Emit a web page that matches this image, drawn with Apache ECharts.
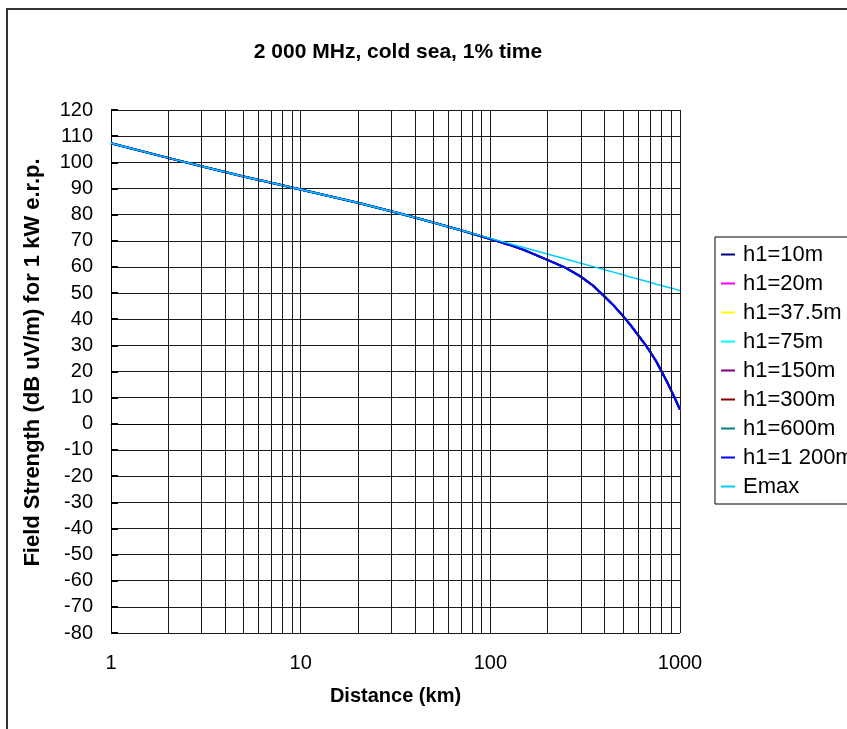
<!DOCTYPE html>
<html>
<head>
<meta charset="utf-8">
<script src="https://cdn.jsdelivr.net/npm/echarts@6/dist/echarts.min.js"></script>
<style>
html,body{margin:0;padding:0;background:#fff;}
#chart{width:847px;height:729px;}
</style>
</head>
<body>
<div id="chart"></div>
<script>
// Distances (km)
const distances = [1,2,3,5,7,10,15,20,30,40,50,70,100,125,150,200,250,300,350,400,450,500,550,600,650,700,750,800,850,900,950,1000];
// Emax curve (dB uV/m)
const emaxValues = [107.3,101.7,98.5,94.6,92.2,89.6,86.6,84.5,81.3,78.9,77.0,74.0,70.9,69.0,67.4,64.9,63.0,61.4,60.1,58.9,57.9,57.0,56.1,55.4,54.7,54.0,53.4,52.9,52.3,51.9,51.4,50.9];
// h1 curves (all eight overlap in the picture)
const h1Values = [107.3,101.7,98.5,94.6,92.2,89.6,86.6,84.5,81.3,78.9,77.0,74.0,70.7,68.5,66.5,62.7,59.6,56.3,52.7,48.7,45.0,41.3,37.6,34.0,30.7,27.3,23.8,20.0,16.4,12.6,9.0,5.4];
const h1Names = ['h1=10m','h1=20m','h1=37.5m','h1=75m','h1=150m','h1=300m','h1=600m','h1=1 200m'];
const h1Colors = ['#000080','#FF00FF','#FFFF00','#00FFFF','#800080','#800000','#008080','#0000FF'];
const emaxName = 'Emax';
const emaxColor = '#00CCFF';
// Axis ticks
const xTicks = [1,10,100,1000];
const xMinorGrid = [2,3,4,5,6,7,8,9,20,30,40,50,60,70,80,90,200,300,400,500,600,700,800,900];
const yMin = -80, yMax = 120, yStep = 10;

const FONT = '"Liberation Sans", Arial, sans-serif';
const chart = echarts.init(document.getElementById('chart'));

const pairs = vals => distances.map((d,i)=>[d, vals[i]]);

const series = h1Names.map((n,i)=>({
  name: n,
  type: 'line',
  data: pairs(h1Values),
  showSymbol: false,
  symbol: 'none',
  lineStyle: {color: h1Colors[i], width: 2},
  itemStyle: {color: h1Colors[i]},
  z: 3,
  animation: false
}));
series[0].markLine = {
  silent: true,
  symbol: ['none','none'],
  label: {show: false},
  lineStyle: {color: '#1a1a1a', width: 1, type: 'solid'},
  emphasis: {disabled: true},
  animation: false,
  data: xMinorGrid.map(v=>({xAxis: v}))
};
series.push({
  name: emaxName,
  type: 'line',
  data: pairs(emaxValues),
  showSymbol: false,
  symbol: 'none',
  lineStyle: {color: emaxColor, width: 1.5},
  itemStyle: {color: emaxColor},
  z: 4,
  animation: false
});

chart.setOption({
  animation: false,
  backgroundColor: '#fff',
  textStyle: {fontFamily: FONT},
  graphic: [{
    type: 'rect',
    shape: {x: 7, y: 9, width: 1000, height: 1000},
    style: {fill: 'none', stroke: '#333', lineWidth: 2},
    silent: true
  }],
  title: {
    text: '2 000 MHz, cold sea, 1% time',
    left: 393,
    top: 37,
    textAlign: 'center',
    textStyle: {fontFamily: FONT, fontSize: 21, fontWeight: 'bold', color: '#000'}
  },
  legend: {
    orient: 'vertical',
    left: 715,
    top: 237,
    data: h1Names.concat([emaxName]),
    icon: 'rect',
    itemWidth: 14,
    itemHeight: 2,
    itemGap: 6,
    padding: [6, 30, 6, 6],
    borderColor: '#000',
    borderWidth: 1,
    backgroundColor: '#fff',
    selectedMode: false,
    textStyle: {fontFamily: FONT, fontSize: 22, color: '#000', lineHeight: 23, padding: [0,0,0,3]}
  },
  grid: {left: 111, top: 110, right: 167, bottom: 96, containLabel: false},
  xAxis: {
    type: 'log',
    logBase: 10,
    min: 1,
    max: 1000,
    name: 'Distance (km)',
    nameLocation: 'middle',
    nameGap: 53,
    nameTextStyle: {fontFamily: FONT, fontSize: 20, fontWeight: 'bold', color: '#000'},
    axisLine: {show: true, lineStyle: {color: '#000', width: 1}},
    axisTick: {show: false},
    minorTick: {show: false},
    axisLabel: {
      margin: 20,
      fontFamily: FONT, fontSize: 20, color: '#000',
      formatter: v => (xTicks.indexOf(Math.round(v)) >= 0 ? String(Math.round(v)) : '')
    },
    splitLine: {show: true, lineStyle: {color: '#1a1a1a', width: 1}}
  },
  yAxis: {
    type: 'value',
    min: yMin,
    max: yMax,
    interval: yStep,
    name: 'Field Strength (dB uV/m) for 1 kW e.r.p.',
    nameLocation: 'middle',
    nameGap: 67,
    nameTextStyle: {fontFamily: FONT, fontSize: 22, fontWeight: 'bold', color: '#000', padding: [0,0,0,18]},
    axisLine: {show: true, lineStyle: {color: '#000', width: 1}},
    axisTick: {show: true, inside: true, length: 7, lineStyle: {color: '#000', width: 2}},
    axisLabel: {margin: 18, fontFamily: FONT, fontSize: 20, color: '#000'},
    splitLine: {show: true, lineStyle: {color: '#1a1a1a', width: 1}}
  },
  series: series
});
</script>
</body>
</html>
